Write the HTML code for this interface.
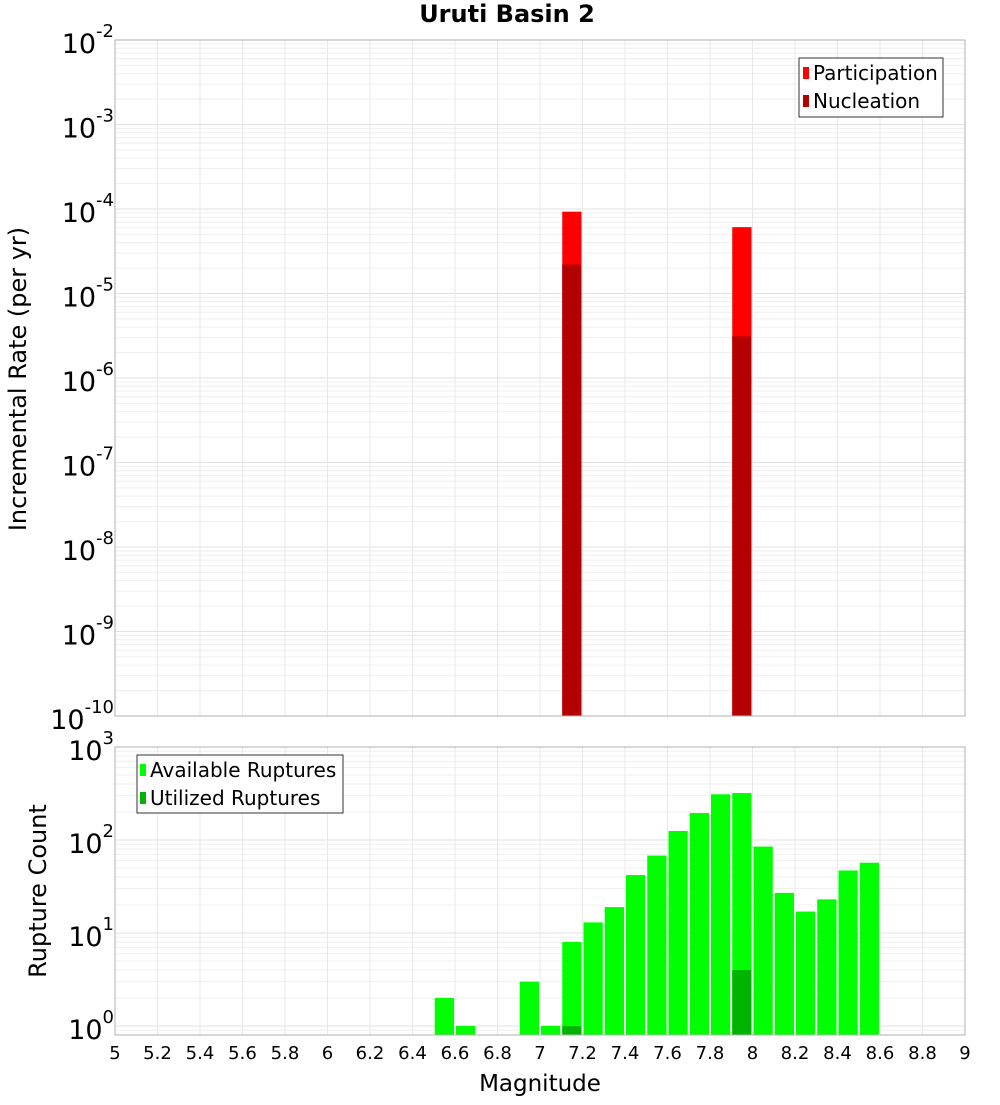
<!DOCTYPE html>
<html><head><meta charset="utf-8"><style>
body{margin:0;background:#fff}
svg text{font-family:"DejaVu Sans","Liberation Sans",sans-serif}
</style></head><body>
<svg id="c" width="1000" height="1100" xmlns="http://www.w3.org/2000/svg"></svg>
<script>
const topMags=[7.15,7.95];
const participation=[9.3e-5,6.1e-5];
const nucleation=[2.2e-5,3.1e-6];
const botMags=[6.55,6.65,6.95,7.05,7.15,7.25,7.35,7.45,7.55,7.65,7.75,7.85,7.95,8.05,8.15,8.25,8.35,8.45,8.55];
const available=[2,1,3,1,8,13,19,42,68,125,195,310,320,85,27,17,23,47,57];
const utilizedMags=[7.15,7.95];
const utilized=[1,4];
const xTicks=["5","5.2","5.4","5.6","5.8","6","6.2","6.4","6.6","6.8","7","7.2","7.4","7.6","7.8","8","8.2","8.4","8.6","8.8","9"];
const topExps=[-10,-9,-8,-7,-6,-5,-4,-3,-2];
const botExps=[0,1,2,3];

const NS="http://www.w3.org/2000/svg";
const svg=document.getElementById('c');
function mk(t,a,p){const e=document.createElementNS(NS,t);for(const k in a)e.setAttribute(k,a[k]);(p||svg).appendChild(e);return e;}
const L=115,R=965;
const x=m=>L+(m-5)/4*(R-L);
const T1=40,B1=716,yTop=v=>B1-(Math.log10(v)+10)/8*(B1-T1);
const T2=747,B2=1035,D=93,yBot=v=>1026-Math.log10(v)*D;
const bw=0.1/4*(R-L)-2;

function grid(T,B,yf,e0,e1){
  for(let e=e0;e<e1;e++)for(let k=1;k<10;k++){const y=yf(k*Math.pow(10,e));if(y<T||y>B)continue;
    const l=mk('line',{x1:L,x2:R,y1:y,y2:y,stroke:k==1?'#e2e2e2':'#efefef','stroke-width':1});
    }
  for(let i=0;i<xTicks.length;i++){const xx=x(parseFloat(xTicks[i]));
    const l=mk('line',{x1:xx,x2:xx,y1:T,y2:B,stroke:'#e8e8e8'});
    }
}
grid(T1,B1,yTop,-10,-2);
grid(T2,B2,yBot,-1,3);

topMags.forEach((m,i)=>{
  const r=mk('rect',{x:x(m)-bw/2,y:yTop(participation[i]),width:bw,height:B1-yTop(participation[i]),fill:'#ff0000'});
  
  const n=mk('rect',{x:x(m)-bw/2,y:yTop(nucleation[i]),width:bw,height:B1-yTop(nucleation[i]),fill:'#b30000'});
  
});
botMags.forEach((m,i)=>{
  const r=mk('rect',{x:x(m)-bw/2,y:yBot(available[i]),width:bw,height:B2-yBot(available[i]),fill:'#00ff00'});
  
});
utilizedMags.forEach((m,i)=>{
  const r=mk('rect',{x:x(m)-bw/2,y:yBot(utilized[i]),width:bw,height:B2-yBot(utilized[i]),fill:'#00b300'});
  
});

let f=mk('rect',{x:L,y:T1,width:R-L,height:B1-T1,fill:'none',stroke:'#b0b0b0'});

f=mk('rect',{x:L,y:T2,width:R-L,height:B2-T2,fill:'none',stroke:'#b0b0b0'});


function ylab(y,e,nm){
  const t=mk('text',{x:114,y:y+13,'text-anchor':'end','font-size':27,fill:'#000'});
  
  t.textContent='10';
  const s=mk('tspan',{dy:-16,'font-size':18},t);s.textContent=String(e);
}
topExps.forEach(e=>{const y=yTop(Math.pow(10,e));ylab(y,e,'y-tick-label');});
botExps.forEach(e=>{const y=yBot(Math.pow(10,e));ylab(y,e,'y-tick-label-bottom');});
xTicks.forEach(v=>{const t=mk('text',{x:x(parseFloat(v)),y:1059,'text-anchor':'middle','font-size':18});
  t.textContent=v;});
</script>
<svg width="1000" height="1100" style="position:absolute;left:0;top:0" xmlns="http://www.w3.org/2000/svg">
<text x="507" y="22" text-anchor="middle" font-size="24" font-weight="bold" font-family="DejaVu Sans,Liberation Sans,sans-serif">Uruti Basin 2</text>
<text transform="translate(26,379) rotate(-90)" text-anchor="middle" font-size="24" font-family="DejaVu Sans,Liberation Sans,sans-serif">Incremental Rate (per yr)</text>
<text transform="translate(46,891) rotate(-90)" text-anchor="middle" font-size="24" font-family="DejaVu Sans,Liberation Sans,sans-serif">Rupture Count</text>
<text x="540" y="1091" text-anchor="middle" font-size="23" font-family="DejaVu Sans,Liberation Sans,sans-serif">Magnitude</text>
<g font-family="DejaVu Sans,Liberation Sans,sans-serif" font-size="20">
<rect x="799" y="58" width="144" height="59" fill="#fff" stroke="#333"/>
<rect x="803" y="67" width="6" height="12" fill="#ff0000"/><text x="813" y="80">Participation</text>
<rect x="803" y="95" width="6" height="12" fill="#b30000"/><text x="813" y="108">Nucleation</text>
</g>
<g font-family="DejaVu Sans,Liberation Sans,sans-serif" font-size="20">
<rect x="137" y="755" width="206" height="58" fill="#fff" stroke="#333"/>
<rect x="140" y="764" width="6" height="12" fill="#00ff00"/><text x="150" y="777">Available Ruptures</text>
<rect x="140" y="792" width="6" height="12" fill="#00b300"/><text x="150" y="805">Utilized Ruptures</text>
</g>
</svg>
</body></html>
